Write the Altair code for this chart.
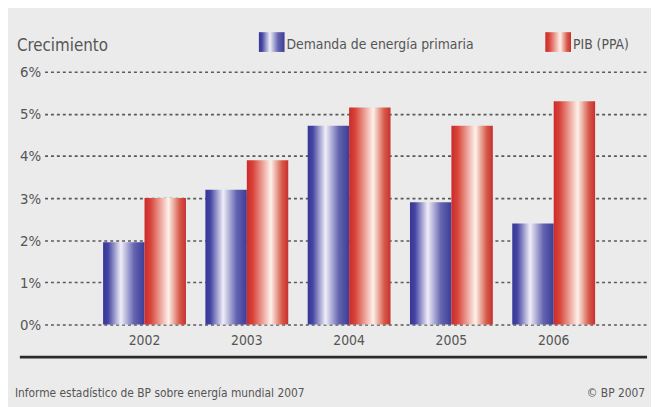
import altair as alt
import pandas as pd

years = ["2002", "2003", "2004", "2005", "2006"]
demanda = [1.95, 3.2, 4.72, 2.9, 2.4]
pib = [3.0, 3.9, 5.15, 4.72, 5.3]
series = ["Demanda de energía primaria", "PIB (PPA)"]
y_ticks = [0, 1, 2, 3, 4, 5, 6]

FONT = "Liberation Sans Narrow, DejaVu Sans Condensed, sans-serif"
TXT = "#555555"

rows = []
for i, yv in enumerate(years):
    rows.append({"year": yv, "serie": series[0], "value": demanda[i]})
    rows.append({"year": yv, "serie": series[1], "value": pib[i]})
df = pd.DataFrame(rows)

blue_grad = alt.Gradient(
    gradient="linear", x1=0, x2=1, y1=0, y2=0,
    stops=[
        alt.GradientStop(offset=0.0, color="#36369a"),
        alt.GradientStop(offset=0.12, color="#4444a2"),
        alt.GradientStop(offset=0.43, color="#efeef8"),
        alt.GradientStop(offset=0.75, color="#6464b0"),
        alt.GradientStop(offset=1.0, color="#3c3c98"),
    ],
)
red_grad = alt.Gradient(
    gradient="linear", x1=0, x2=1, y1=0, y2=0,
    stops=[
        alt.GradientStop(offset=0.0, color="#cc2a2a"),
        alt.GradientStop(offset=0.15, color="#d8453a"),
        alt.GradientStop(offset=0.58, color="#fdf1ea"),
        alt.GradientStop(offset=0.85, color="#d65a48"),
        alt.GradientStop(offset=1.0, color="#c83030"),
    ],
)

x_enc = alt.X(
    "year:N",
    sort=years,
    scale=alt.Scale(domain=years, paddingInner=0.19, paddingOuter=0.54, align=0.53),
    axis=alt.Axis(
        title=None, domain=False, ticks=False, labelAngle=0, labelPadding=9,
        labelFont=FONT, labelFontSize=14, labelColor=TXT, grid=False,
    ),
)
y_enc = alt.Y(
    "value:Q",
    scale=alt.Scale(domain=[0, 6], nice=False),
    axis=alt.Axis(
        title=None, values=y_ticks, labelExpr="datum.value + '%'",
        domain=False, ticks=False, labelPadding=4,
        labelFont=FONT, labelFontSize=15, labelColor=TXT,
        grid=True, gridColor="#5a5a5a", gridDash=[3, 3], gridWidth=1.6,
    ),
)
xoff = alt.XOffset("serie:N", scale=alt.Scale(domain=series, paddingInner=0, paddingOuter=0))

base = alt.Chart(df)
bars_blue = base.transform_filter(alt.datum.serie == series[0]).mark_bar(
    fill=blue_grad, cornerRadius=0
).encode(x=x_enc, y=y_enc, xOffset=xoff)
bars_red = base.transform_filter(alt.datum.serie == series[1]).mark_bar(
    fill=red_grad, cornerRadius=0
).encode(x=x_enc, y=y_enc, xOffset=xoff)

one = pd.DataFrame({"a": [0]})
deco = alt.Chart(one)

title = deco.mark_text(
    text="Crecimiento", font=FONT, fontSize=17, color=TXT, align="left", baseline="alphabetic"
).encode(x=alt.value(-28), y=alt.value(-21))

leg_blue = deco.mark_rect(fill=blue_grad).encode(
    x=alt.value(217), x2=alt.value(243), y=alt.value(-40), y2=alt.value(-20)
)
leg_blue_t = deco.mark_text(
    text=series[0], font=FONT, fontSize=14, color=TXT, align="left", baseline="alphabetic"
).encode(x=alt.value(245), y=alt.value(-23))
leg_red = deco.mark_rect(fill=red_grad).encode(
    x=alt.value(507), x2=alt.value(533), y=alt.value(-40), y2=alt.value(-20)
)
leg_red_t = deco.mark_text(
    text=series[1], font=FONT, fontSize=14, color=TXT, align="left", baseline="alphabetic"
).encode(x=alt.value(535), y=alt.value(-23))

base_line = deco.mark_rule(color="#2a2a2a", strokeWidth=3).encode(
    x=alt.value(-25), x2=alt.value(610), y=alt.value(289)
)
foot_l = deco.mark_text(
    text="Informe estadístico de BP sobre energía mundial 2007", font=FONT, fontSize=12,
    color=TXT, align="left", baseline="alphabetic"
).encode(x=alt.value(-30), y=alt.value(329))
foot_r = deco.mark_text(
    text="© BP 2007", font=FONT, fontSize=12, color=TXT, align="right", baseline="alphabetic"
).encode(x=alt.value(608), y=alt.value(329))

chart = alt.layer(
    bars_blue, bars_red, title, leg_blue, leg_blue_t, leg_red, leg_red_t,
    base_line, foot_l, foot_r
).properties(
    width=610, height=256,
    autosize=alt.AutoSizeParams(type="none"),
    padding={"left": 37, "top": 62, "right": 4, "bottom": 81},
    background="#ebebeb",
).configure_view(stroke=None)

chart.save("out.html", embed_options={"renderer": "svg", "actions": False})
